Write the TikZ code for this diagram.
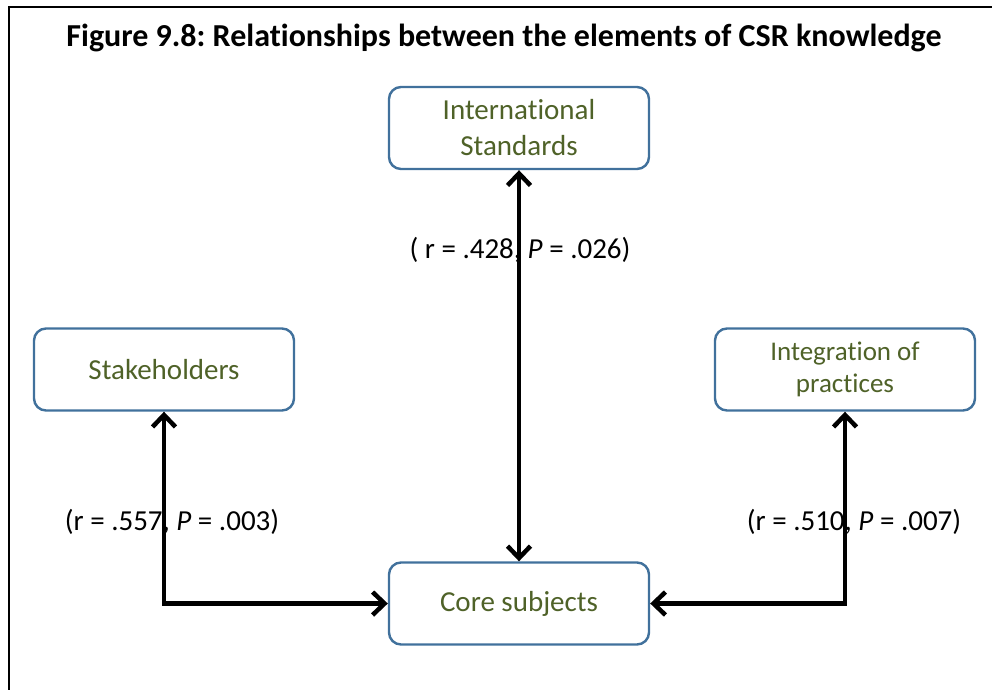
\documentclass[tikz,border=0pt]{standalone}
\usepackage{fontspec}
\setmainfont{Carlito}[Ligatures=NoCommon]
\usepackage{tikz}
\usetikzlibrary{arrows.meta,positioning}
\definecolor{borde}{HTML}{41719C}
\definecolor{texto}{HTML}{4F6228}
\definecolor{negro}{HTML}{000000}
\frenchspacing

\begin{document}
\begin{tikzpicture}[x=1pt, y=-1pt, font=\fontsize{29}{36}\selectfont,
  elemento/.style={draw=borde, fill=white, line width=2.4pt, rounded corners=12pt, align=center, text=texto, minimum width=260pt, minimum height=82pt, inner sep=2pt},
  enlace/.style={{Straight Barb[length=12pt,width=23pt]}-{Straight Barb[length=12pt,width=23pt]}, negro, line width=4.5pt},
  valor/.style={text=negro, inner sep=0pt}]
\useasboundingbox (0,0) rectangle (992,689);
\draw[line width=1.6pt] (9,700) -- (9,7) -- (1000,7);
\node[font=\bfseries\fontsize{32}{38}\selectfont] (titulo) at (504,38) {Figure 9.8: Relationships between the elements of CSR knowledge};
\node[elemento] (is) at (519,128) {International\\Standards};
\node[elemento] (st) at (164,369.5) {Stakeholders};
\node[elemento, font=\fontsize{27}{32}\selectfont] (ip) at (845,369.5) {Integration of\\practices};
\node[elemento] (cs) at (519,603.5) {Core subjects};
\node[valor] (v1) at (520,250) {( r = .428, \textit{P} = .026)};
\node[valor] (v2) at (172,522) {(r = .557, \textit{P} = .003)};
\node[valor] (v3) at (854,522) {(r = .510, \textit{P} = .007)};
\draw[enlace] (is.south) -- (cs.north);
\draw[enlace] (st.south) |- (cs.west);
\draw[enlace] (ip.south) |- (cs.east);
\end{tikzpicture}
\end{document}
